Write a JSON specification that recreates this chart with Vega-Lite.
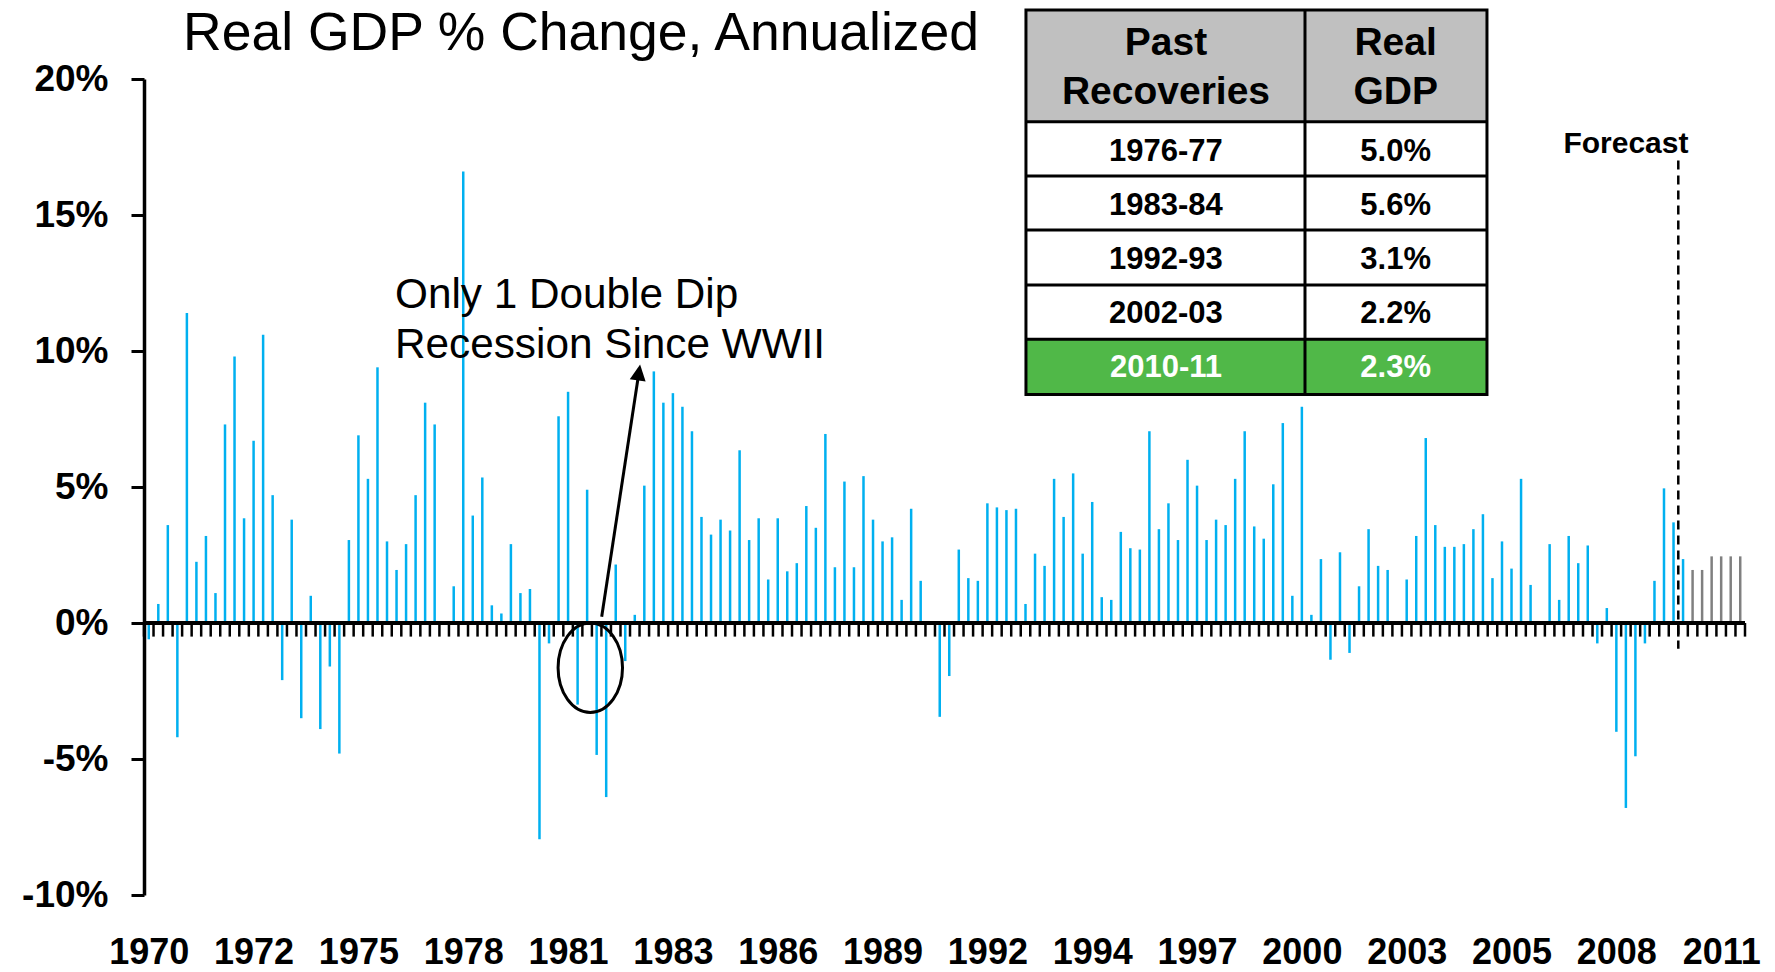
{
  "$schema": "https://vega.github.io/schema/vega-lite/v6.json",
  "width": 1601,
  "height": 816,
  "autosize": {"type": "none"},
  "padding": {"left": 144, "top": 79, "right": 30, "bottom": 77},
  "background": "white",
  "config": {"view": {"stroke": null}, "font": "Liberation Sans"},
  "datasets": {
    "gdp": [
      {"t":1970.125,"gdp":-0.6,"kind":"Actual"},{"t":1970.375,"gdp":0.7,"kind":"Actual"},{"t":1970.625,"gdp":3.6,"kind":"Actual"},{"t":1970.875,"gdp":-4.2,"kind":"Actual"},
      {"t":1971.125,"gdp":11.4,"kind":"Actual"},{"t":1971.375,"gdp":2.25,"kind":"Actual"},{"t":1971.625,"gdp":3.2,"kind":"Actual"},{"t":1971.875,"gdp":1.1,"kind":"Actual"},
      {"t":1972.125,"gdp":7.3,"kind":"Actual"},{"t":1972.375,"gdp":9.8,"kind":"Actual"},{"t":1972.625,"gdp":3.85,"kind":"Actual"},{"t":1972.875,"gdp":6.7,"kind":"Actual"},
      {"t":1973.125,"gdp":10.6,"kind":"Actual"},{"t":1973.375,"gdp":4.7,"kind":"Actual"},{"t":1973.625,"gdp":-2.1,"kind":"Actual"},{"t":1973.875,"gdp":3.8,"kind":"Actual"},
      {"t":1974.125,"gdp":-3.5,"kind":"Actual"},{"t":1974.375,"gdp":1.0,"kind":"Actual"},{"t":1974.625,"gdp":-3.9,"kind":"Actual"},{"t":1974.875,"gdp":-1.6,"kind":"Actual"},
      {"t":1975.125,"gdp":-4.8,"kind":"Actual"},{"t":1975.375,"gdp":3.05,"kind":"Actual"},{"t":1975.625,"gdp":6.9,"kind":"Actual"},{"t":1975.875,"gdp":5.3,"kind":"Actual"},
      {"t":1976.125,"gdp":9.4,"kind":"Actual"},{"t":1976.375,"gdp":3.0,"kind":"Actual"},{"t":1976.625,"gdp":1.95,"kind":"Actual"},{"t":1976.875,"gdp":2.9,"kind":"Actual"},
      {"t":1977.125,"gdp":4.7,"kind":"Actual"},{"t":1977.375,"gdp":8.1,"kind":"Actual"},{"t":1977.625,"gdp":7.3,"kind":"Actual"},{"t":1977.875,"gdp":0.05,"kind":"Actual"},
      {"t":1978.125,"gdp":1.35,"kind":"Actual"},{"t":1978.375,"gdp":16.6,"kind":"Actual"},{"t":1978.625,"gdp":3.95,"kind":"Actual"},{"t":1978.875,"gdp":5.35,"kind":"Actual"},
      {"t":1979.125,"gdp":0.65,"kind":"Actual"},{"t":1979.375,"gdp":0.35,"kind":"Actual"},{"t":1979.625,"gdp":2.9,"kind":"Actual"},{"t":1979.875,"gdp":1.1,"kind":"Actual"},
      {"t":1980.125,"gdp":1.25,"kind":"Actual"},{"t":1980.375,"gdp":-7.95,"kind":"Actual"},{"t":1980.625,"gdp":-0.75,"kind":"Actual"},{"t":1980.875,"gdp":7.6,"kind":"Actual"},
      {"t":1981.125,"gdp":8.5,"kind":"Actual"},{"t":1981.375,"gdp":-3.0,"kind":"Actual"},{"t":1981.625,"gdp":4.9,"kind":"Actual"},{"t":1981.875,"gdp":-4.85,"kind":"Actual"},
      {"t":1982.125,"gdp":-6.4,"kind":"Actual"},{"t":1982.375,"gdp":2.15,"kind":"Actual"},{"t":1982.625,"gdp":-1.4,"kind":"Actual"},{"t":1982.875,"gdp":0.3,"kind":"Actual"},
      {"t":1983.125,"gdp":5.05,"kind":"Actual"},{"t":1983.375,"gdp":9.25,"kind":"Actual"},{"t":1983.625,"gdp":8.1,"kind":"Actual"},{"t":1983.875,"gdp":8.45,"kind":"Actual"},
      {"t":1984.125,"gdp":7.95,"kind":"Actual"},{"t":1984.375,"gdp":7.05,"kind":"Actual"},{"t":1984.625,"gdp":3.9,"kind":"Actual"},{"t":1984.875,"gdp":3.25,"kind":"Actual"},
      {"t":1985.125,"gdp":3.8,"kind":"Actual"},{"t":1985.375,"gdp":3.4,"kind":"Actual"},{"t":1985.625,"gdp":6.35,"kind":"Actual"},{"t":1985.875,"gdp":3.05,"kind":"Actual"},
      {"t":1986.125,"gdp":3.85,"kind":"Actual"},{"t":1986.375,"gdp":1.6,"kind":"Actual"},{"t":1986.625,"gdp":3.85,"kind":"Actual"},{"t":1986.875,"gdp":1.9,"kind":"Actual"},
      {"t":1987.125,"gdp":2.2,"kind":"Actual"},{"t":1987.375,"gdp":4.3,"kind":"Actual"},{"t":1987.625,"gdp":3.5,"kind":"Actual"},{"t":1987.875,"gdp":6.95,"kind":"Actual"},
      {"t":1988.125,"gdp":2.05,"kind":"Actual"},{"t":1988.375,"gdp":5.2,"kind":"Actual"},{"t":1988.625,"gdp":2.05,"kind":"Actual"},{"t":1988.875,"gdp":5.4,"kind":"Actual"},
      {"t":1989.125,"gdp":3.8,"kind":"Actual"},{"t":1989.375,"gdp":3.0,"kind":"Actual"},{"t":1989.625,"gdp":3.15,"kind":"Actual"},{"t":1989.875,"gdp":0.85,"kind":"Actual"},
      {"t":1990.125,"gdp":4.2,"kind":"Actual"},{"t":1990.375,"gdp":1.55,"kind":"Actual"},{"t":1990.625,"gdp":0.05,"kind":"Actual"},{"t":1990.875,"gdp":-3.45,"kind":"Actual"},
      {"t":1991.125,"gdp":-1.95,"kind":"Actual"},{"t":1991.375,"gdp":2.7,"kind":"Actual"},{"t":1991.625,"gdp":1.65,"kind":"Actual"},{"t":1991.875,"gdp":1.55,"kind":"Actual"},
      {"t":1992.125,"gdp":4.4,"kind":"Actual"},{"t":1992.375,"gdp":4.25,"kind":"Actual"},{"t":1992.625,"gdp":4.15,"kind":"Actual"},{"t":1992.875,"gdp":4.2,"kind":"Actual"},
      {"t":1993.125,"gdp":0.7,"kind":"Actual"},{"t":1993.375,"gdp":2.55,"kind":"Actual"},{"t":1993.625,"gdp":2.1,"kind":"Actual"},{"t":1993.875,"gdp":5.3,"kind":"Actual"},
      {"t":1994.125,"gdp":3.9,"kind":"Actual"},{"t":1994.375,"gdp":5.5,"kind":"Actual"},{"t":1994.625,"gdp":2.55,"kind":"Actual"},{"t":1994.875,"gdp":4.45,"kind":"Actual"},
      {"t":1995.125,"gdp":0.95,"kind":"Actual"},{"t":1995.375,"gdp":0.85,"kind":"Actual"},{"t":1995.625,"gdp":3.35,"kind":"Actual"},{"t":1995.875,"gdp":2.75,"kind":"Actual"},
      {"t":1996.125,"gdp":2.7,"kind":"Actual"},{"t":1996.375,"gdp":7.05,"kind":"Actual"},{"t":1996.625,"gdp":3.45,"kind":"Actual"},{"t":1996.875,"gdp":4.4,"kind":"Actual"},
      {"t":1997.125,"gdp":3.05,"kind":"Actual"},{"t":1997.375,"gdp":6.0,"kind":"Actual"},{"t":1997.625,"gdp":5.05,"kind":"Actual"},{"t":1997.875,"gdp":3.05,"kind":"Actual"},
      {"t":1998.125,"gdp":3.8,"kind":"Actual"},{"t":1998.375,"gdp":3.6,"kind":"Actual"},{"t":1998.625,"gdp":5.3,"kind":"Actual"},{"t":1998.875,"gdp":7.05,"kind":"Actual"},
      {"t":1999.125,"gdp":3.55,"kind":"Actual"},{"t":1999.375,"gdp":3.1,"kind":"Actual"},{"t":1999.625,"gdp":5.1,"kind":"Actual"},{"t":1999.875,"gdp":7.35,"kind":"Actual"},
      {"t":2000.125,"gdp":1.0,"kind":"Actual"},{"t":2000.375,"gdp":7.95,"kind":"Actual"},{"t":2000.625,"gdp":0.3,"kind":"Actual"},{"t":2000.875,"gdp":2.35,"kind":"Actual"},
      {"t":2001.125,"gdp":-1.35,"kind":"Actual"},{"t":2001.375,"gdp":2.6,"kind":"Actual"},{"t":2001.625,"gdp":-1.1,"kind":"Actual"},{"t":2001.875,"gdp":1.35,"kind":"Actual"},
      {"t":2002.125,"gdp":3.45,"kind":"Actual"},{"t":2002.375,"gdp":2.1,"kind":"Actual"},{"t":2002.625,"gdp":1.95,"kind":"Actual"},{"t":2002.875,"gdp":0.05,"kind":"Actual"},
      {"t":2003.125,"gdp":1.6,"kind":"Actual"},{"t":2003.375,"gdp":3.2,"kind":"Actual"},{"t":2003.625,"gdp":6.8,"kind":"Actual"},{"t":2003.875,"gdp":3.6,"kind":"Actual"},
      {"t":2004.125,"gdp":2.8,"kind":"Actual"},{"t":2004.375,"gdp":2.8,"kind":"Actual"},{"t":2004.625,"gdp":2.9,"kind":"Actual"},{"t":2004.875,"gdp":3.45,"kind":"Actual"},
      {"t":2005.125,"gdp":4.0,"kind":"Actual"},{"t":2005.375,"gdp":1.65,"kind":"Actual"},{"t":2005.625,"gdp":3.0,"kind":"Actual"},{"t":2005.875,"gdp":2.0,"kind":"Actual"},
      {"t":2006.125,"gdp":5.3,"kind":"Actual"},{"t":2006.375,"gdp":1.4,"kind":"Actual"},{"t":2006.625,"gdp":0.05,"kind":"Actual"},{"t":2006.875,"gdp":2.9,"kind":"Actual"},
      {"t":2007.125,"gdp":0.85,"kind":"Actual"},{"t":2007.375,"gdp":3.2,"kind":"Actual"},{"t":2007.625,"gdp":2.2,"kind":"Actual"},{"t":2007.875,"gdp":2.85,"kind":"Actual"},
      {"t":2008.125,"gdp":-0.75,"kind":"Actual"},{"t":2008.375,"gdp":0.55,"kind":"Actual"},{"t":2008.625,"gdp":-4.0,"kind":"Actual"},{"t":2008.875,"gdp":-6.8,"kind":"Actual"},
      {"t":2009.125,"gdp":-4.9,"kind":"Actual"},{"t":2009.375,"gdp":-0.75,"kind":"Actual"},{"t":2009.625,"gdp":1.55,"kind":"Actual"},{"t":2009.875,"gdp":4.95,"kind":"Actual"},
      {"t":2010.125,"gdp":3.7,"kind":"Actual"},{"t":2010.375,"gdp":2.35,"kind":"Actual"},{"t":2010.625,"gdp":1.95,"kind":"Forecast"},{"t":2010.875,"gdp":1.95,"kind":"Forecast"},
      {"t":2011.125,"gdp":2.45,"kind":"Forecast"},{"t":2011.375,"gdp":2.45,"kind":"Forecast"},{"t":2011.625,"gdp":2.45,"kind":"Forecast"},{"t":2011.875,"gdp":2.45,"kind":"Forecast"}
    ],
    "recoveries": [
      {"row": 1, "period": "1976-77", "gdp": 0.050, "current": false},
      {"row": 2, "period": "1983-84", "gdp": 0.056, "current": false},
      {"row": 3, "period": "1992-93", "gdp": 0.031, "current": false},
      {"row": 4, "period": "2002-03", "gdp": 0.022, "current": false},
      {"row": 5, "period": "2010-11", "gdp": 0.023, "current": true}
    ]
  },
  "layer": [
    {
      "layer": [
        {
          "data": {"name": "gdp"},
          "mark": {"type": "rule", "strokeWidth": 2.5, "strokeCap": "butt"},
          "encoding": {
            "x": {
              "field": "t", "type": "quantitative",
              "scale": {"domain": [1970, 2012], "nice": false, "zero": false},
              "axis": {
                "title": null, "orient": "bottom", "domain": false, "ticks": false, "tickSize": 0, "grid": false,
                "values": [1970.125, 1972.875, 1975.625, 1978.375, 1981.125, 1983.875, 1986.625, 1989.375, 1992.125, 1994.875, 1997.625, 2000.375, 2003.125, 2005.875, 2008.625, 2011.375],
                "labelExpr": "toString(floor(datum.value))",
                "labelFont": "Liberation Sans", "labelFontSize": 36, "labelFontWeight": "bold", "labelColor": "black",
                "labelPadding": 40, "labelFlush": false, "labelOverlap": false
              }
            },
            "y": {
              "field": "gdp", "type": "quantitative",
              "scale": {"domain": [-10, 20], "nice": false, "zero": false},
              "axis": {
                "title": null, "grid": false, "values": [-10, -5, 0, 5, 10, 15, 20],
                "labelExpr": "datum.value + '%'",
                "domainColor": "black", "domainWidth": 3.5,
                "tickColor": "black", "tickWidth": 3, "tickSize": 13,
                "labelFont": "Liberation Sans", "labelFontSize": 37, "labelFontWeight": "bold", "labelColor": "black",
                "labelPadding": 23
              }
            },
            "y2": {"datum": 0},
            "color": {"field": "kind", "type": "nominal", "scale": {"domain": ["Actual", "Forecast"], "range": ["#00B0F0", "#808080"]}, "legend": null}
          }
        },
        {
          "data": {"values": [{}]},
          "mark": {"type": "rule", "color": "black", "strokeWidth": 4},
          "encoding": {"y": {"datum": 0}}
        },
        {
          "data": {"name": "gdp"},
          "mark": {"type": "rule", "color": "black", "strokeWidth": 2.5, "xOffset": -4.765, "strokeCap": "butt"},
          "encoding": {"x": {"field": "t", "type": "quantitative"}, "y": {"datum": 0}, "y2": {"datum": -0.5}}
        },
        {
          "data": {"values": [{}]},
          "mark": {"type": "rule", "color": "black", "strokeWidth": 2.5, "strokeCap": "butt"},
          "encoding": {"x": {"datum": 2012}, "y": {"datum": 0}, "y2": {"datum": -0.5}}
        },
        {
          "data": {"values": [{}]},
          "mark": {"type": "rule", "color": "black", "strokeWidth": 2.5, "strokeDash": [9, 6]},
          "encoding": {"x": {"datum": 2010.25}, "y": {"datum": 17.0}, "y2": {"datum": -0.95}}
        },
        {
          "data": {"values": [{}]},
          "mark": {"type": "text", "text": "Forecast", "font": "Liberation Sans", "fontSize": 30, "fontWeight": "bold", "color": "black", "align": "center", "baseline": "alphabetic"},
          "encoding": {"x": {"datum": 2008.877}, "y": {"datum": 17.28}}
        },
        {
          "data": {"values": [{}]},
          "mark": {"type": "text", "text": "Real GDP % Change, Annualized", "font": "Liberation Sans", "fontSize": 53.5, "color": "black", "align": "left", "baseline": "alphabetic"},
          "encoding": {"x": {"datum": 1971.023}, "y": {"datum": 21.066}}
        },
        {
          "data": {"values": [{}]},
          "mark": {"type": "text", "text": ["Only 1 Double Dip", "Recession Since WWII"], "font": "Liberation Sans", "fontSize": 42.3, "lineHeight": 50.5, "color": "black", "align": "left", "baseline": "alphabetic"},
          "encoding": {"x": {"datum": 1976.584}, "y": {"datum": 11.59}}
        },
        {
          "data": {"values": [{}]},
          "mark": {"type": "point", "shape": "M-0.72,0A0.72,1,0,1,0,0.72,0A0.72,1,0,1,0,-0.72,0Z", "size": 8010, "filled": false, "stroke": "black", "strokeWidth": 3, "opacity": 1},
          "encoding": {"x": {"datum": 1981.708}, "y": {"datum": -1.647}}
        },
        {
          "data": {"values": [{}]},
          "mark": {"type": "rule", "color": "black", "strokeWidth": 3},
          "encoding": {"x": {"datum": 1982.007}, "y": {"datum": 0.23}, "x2": {"datum": 1982.983}, "y2": {"datum": 9.21}}
        },
        {
          "data": {"values": [{}]},
          "mark": {"type": "point", "shape": "M0,-1L1,1L-1,1Z", "size": 256, "angle": 8.65, "filled": true, "color": "black", "opacity": 1},
          "encoding": {"x": {"datum": 1982.983}, "y": {"datum": 9.21}}
        },
        {
          "data": {"values": [{}]},
          "mark": {"type": "rect", "fill": "#C0C0C0"},
          "encoding": {"x": {"datum": 1993.137}, "x2": {"datum": 2005.231}, "y": {"datum": 22.54}, "y2": {"datum": 18.43}}
        },
        {
          "data": {"values": [{}]},
          "mark": {"type": "rect", "fill": "white"},
          "encoding": {"x": {"datum": 1993.137}, "x2": {"datum": 2005.231}, "y": {"datum": 18.43}, "y2": {"datum": 10.43}}
        },
        {
          "data": {"values": [{}]},
          "mark": {"type": "rect", "fill": "#50B848"},
          "encoding": {"x": {"datum": 1993.137}, "x2": {"datum": 2005.231}, "y": {"datum": 10.43}, "y2": {"datum": 8.40}}
        },
        {
          "data": {"values": [{}]},
          "mark": {"type": "rule", "color": "black", "strokeWidth": 3},
          "encoding": {"x": {"datum": 1993.137}, "x2": {"datum": 2005.231}, "y": {"datum": 18.43}}
        },
        {
          "data": {"values": [{}]},
          "mark": {"type": "rule", "color": "black", "strokeWidth": 3},
          "encoding": {"x": {"datum": 1993.137}, "x2": {"datum": 2005.231}, "y": {"datum": 16.43}}
        },
        {
          "data": {"values": [{}]},
          "mark": {"type": "rule", "color": "black", "strokeWidth": 3},
          "encoding": {"x": {"datum": 1993.137}, "x2": {"datum": 2005.231}, "y": {"datum": 14.45}}
        },
        {
          "data": {"values": [{}]},
          "mark": {"type": "rule", "color": "black", "strokeWidth": 3},
          "encoding": {"x": {"datum": 1993.137}, "x2": {"datum": 2005.231}, "y": {"datum": 12.43}}
        },
        {
          "data": {"values": [{}]},
          "mark": {"type": "rule", "color": "black", "strokeWidth": 3},
          "encoding": {"x": {"datum": 1993.137}, "x2": {"datum": 2005.231}, "y": {"datum": 10.43}}
        },
        {
          "data": {"values": [{}]},
          "mark": {"type": "rule", "color": "black", "strokeWidth": 3},
          "encoding": {"x": {"datum": 2000.457}, "y": {"datum": 22.54}, "y2": {"datum": 8.40}}
        },
        {
          "data": {"values": [{}]},
          "mark": {"type": "rect", "fill": null, "fillOpacity": 0, "stroke": "black", "strokeWidth": 3},
          "encoding": {"x": {"datum": 1993.137}, "x2": {"datum": 2005.231}, "y": {"datum": 22.54}, "y2": {"datum": 8.40}}
        },
        {
          "data": {"values": [{}]},
          "mark": {"type": "text", "text": ["Past", "Recoveries"], "font": "Liberation Sans", "fontSize": 39, "fontWeight": "bold", "lineHeight": 49, "color": "black", "align": "center", "baseline": "alphabetic"},
          "encoding": {"x": {"datum": 1996.81}, "y": {"datum": 20.88}}
        },
        {
          "data": {"values": [{}]},
          "mark": {"type": "text", "text": ["Real", "GDP"], "font": "Liberation Sans", "fontSize": 39, "fontWeight": "bold", "lineHeight": 49, "color": "black", "align": "center", "baseline": "alphabetic"},
          "encoding": {"x": {"datum": 2002.835}, "y": {"datum": 20.88}}
        }
      ]
    },
    {
      "data": {"name": "recoveries"},
      "mark": {"type": "text", "font": "Liberation Sans", "fontSize": 31, "fontWeight": "bold", "align": "center", "baseline": "alphabetic"},
      "encoding": {
        "x": {"datum": 1996.81},
        "y": {"field": "row", "type": "quantitative", "scale": {"domain": [-0.5157, 14.567], "reverse": true, "nice": false, "zero": false}, "axis": null},
        "text": {"field": "period"},
        "color": {"condition": {"test": "datum.current", "value": "white"}, "value": "black"}
      }
    },
    {
      "data": {"name": "recoveries"},
      "mark": {"type": "text", "font": "Liberation Sans", "fontSize": 31, "fontWeight": "bold", "align": "center", "baseline": "alphabetic"},
      "encoding": {
        "x": {"datum": 2002.835},
        "y": {"field": "row", "type": "quantitative", "scale": {"domain": [-0.5157, 14.567], "reverse": true, "nice": false, "zero": false}, "axis": null},
        "text": {"field": "gdp", "type": "quantitative", "format": ".1%"},
        "color": {"condition": {"test": "datum.current", "value": "white"}, "value": "black"}
      }
    }
  ],
  "resolve": {"scale": {"y": "independent"}}
}
